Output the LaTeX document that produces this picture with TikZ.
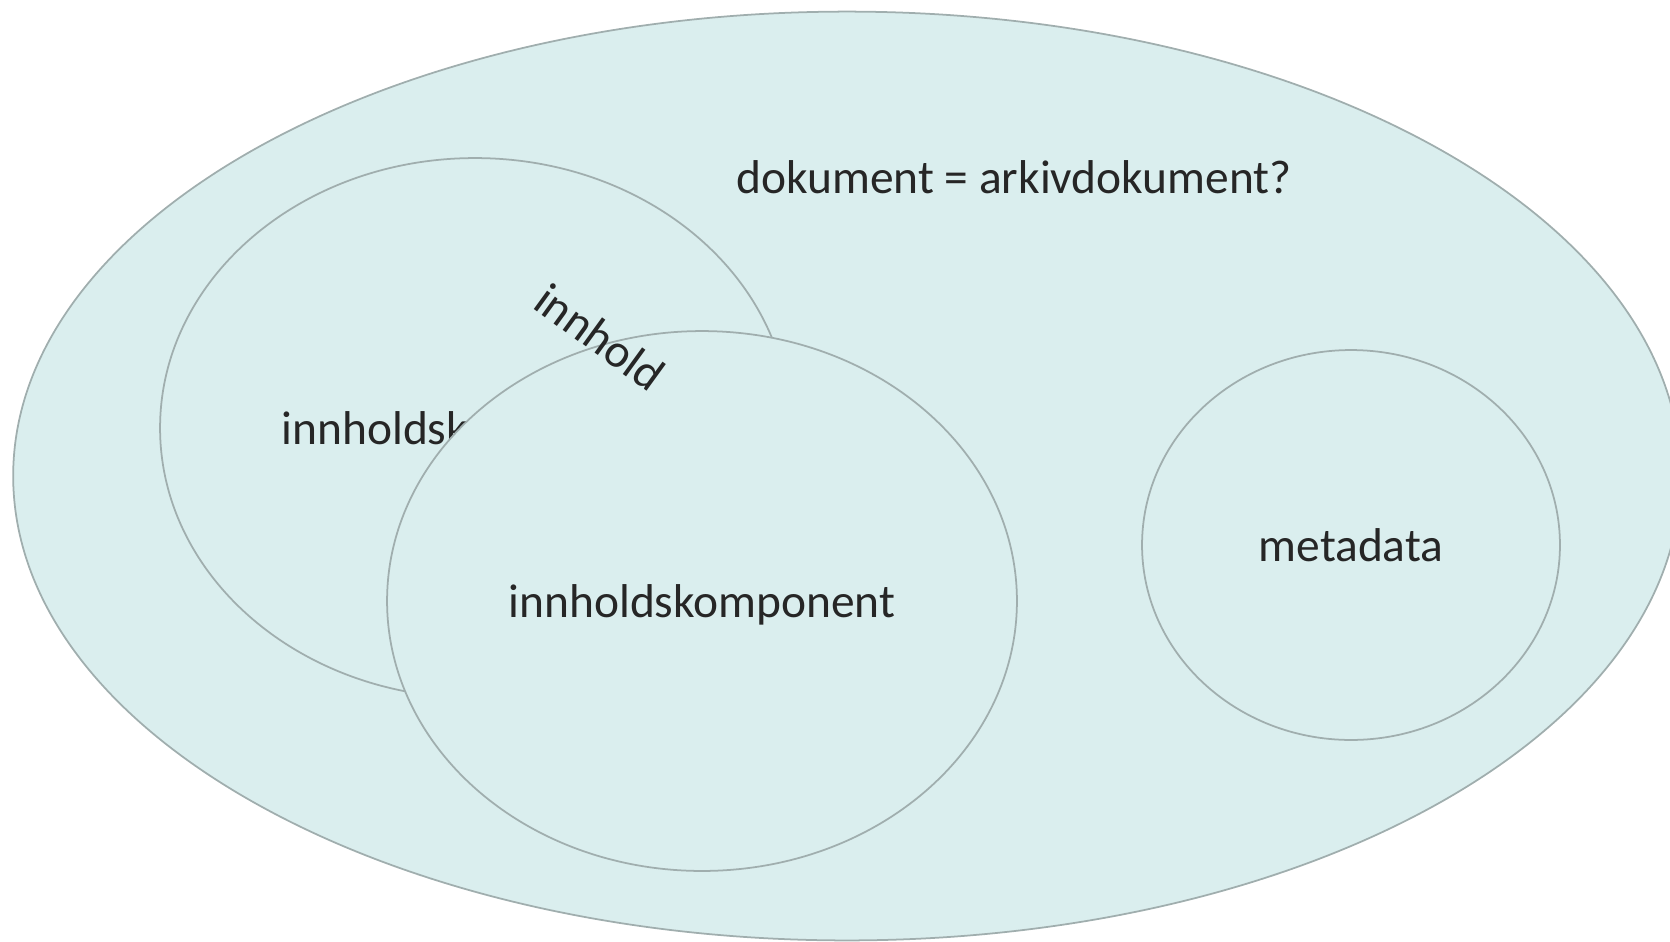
\documentclass[tikz,border=0pt]{standalone}
\usepackage{fontspec}
\setmainfont{Carlito}
\usepackage{xcolor}
\usepackage{tikz}
\usetikzlibrary{positioning}
\usetikzlibrary{shapes}

\definecolor{venfill}{RGB}{218,238,238}
\definecolor{venline}{RGB}{160,174,174}

\tikzset{
	venn/.style={ellipse, draw=venline, fill=venfill, line width=1pt, inner sep=0pt, text=black!85},
	lbl/.style={font=\fontsize{27}{32}\selectfont, text=black!85, inner sep=0pt}
}

\begin{document}
\begin{tikzpicture}[x=0.02cm, y=-0.02cm]
			\useasboundingbox (0,0) rectangle (1670,941);
			% draw node
			\node[venn, minimum width=33.36cm, minimum height=18.58cm] (dok) at (847,476) {};
			\node[lbl] (dokl) at (1014,177) {dokument = arkivdokument?};
			\node[venn, lbl, text depth=0pt, minimum width=12.6cm, minimum height=10.8cm] (ink1) at (475,428) {innholdskomponent};
			\node[venn, lbl, text depth=0pt, minimum width=12.6cm, minimum height=10.8cm] (ink2) at (702,601) {innholdskomponent};
			\node[lbl, rotate=-36] (inh) at (600,337) {innhold};
			\node[venn, lbl, minimum width=8.36cm, minimum height=7.8cm] (meta) at (1351,545) {metadata};
			
		\end{tikzpicture}
\end{document}
